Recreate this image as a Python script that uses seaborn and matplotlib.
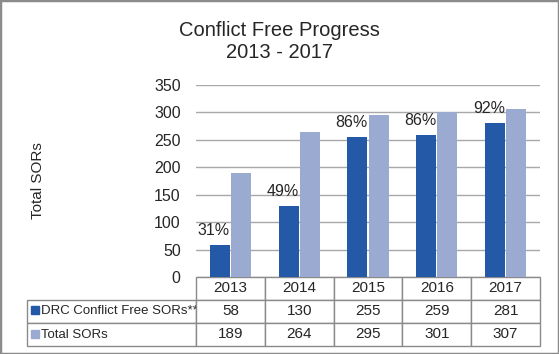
import pandas as pd
import seaborn as sns
import matplotlib.pyplot as plt
from matplotlib.patches import Rectangle

# chart values
years = ['2013', '2014', '2015', '2016', '2017']
drc_free = [58, 130, 255, 259, 281]
total_sors = [189, 264, 295, 301, 307]
series_names = ['DRC Conflict Free SORs**', 'Total SORs']
pct_labels = ['31%', '49%', '86%', '86%', '92%']

dark = '#2359a6'
light = '#9baad1'

sns.set_style('white')
plt.rcParams['font.family'] = ['Liberation Sans', 'DejaVu Sans']

df = pd.DataFrame({
    'year': years * 2,
    'series': [series_names[0]] * 5 + [series_names[1]] * 5,
    'value': drc_free + total_sors,
})

fig = plt.figure(figsize=(5.59, 3.54), dpi=100)
ax = fig.add_axes([196 / 559, 1 - 277 / 354, 344 / 559, 192 / 354])

sns.barplot(data=df, x='year', y='value', hue='series', palette=[dark, light],
            saturation=1, width=0.62, gap=0.06, legend=False, ax=ax, linewidth=0)

ax.set_ylim(0, 350)
ax.set_yticks(range(0, 351, 50))
ax.set_xlabel('')
ax.set_ylabel('')
ax.tick_params(axis='x', labelbottom=False, length=0)
ax.tick_params(axis='y', length=0, pad=11, labelsize=11.5)
ax.yaxis.grid(True, color='#a8a8a8', lw=1)
ax.set_axisbelow(True)
sns.despine(ax=ax, left=True, bottom=True)

# percentage of conflict free over the dark bars
for bar, lab in zip(ax.containers[0], pct_labels):
    ax.annotate(lab, (bar.get_x() + bar.get_width(), bar.get_height()),
                xytext=(0, 5), textcoords='offset points',
                ha='right', va='bottom', fontsize=11.5)

# data table under the bars
cells = [[''] + years,
         [series_names[0]] + [str(v) for v in drc_free],
         [series_names[1]] + [str(v) for v in total_sors]]
tbl = ax.table(cellText=cells, colWidths=[169] + [68.8] * 5, cellLoc='center',
               bbox=[-169 / 344, -69 / 192, 513 / 344, 69 / 192])
tbl.auto_set_font_size(False)
tbl.set_fontsize(11)
for (r, c), cell in tbl.get_celld().items():
    cell.set_edgecolor('#8a8a8a')
    cell.set_linewidth(1)
    if c == 0:
        cell._loc = 'left'
        cell.PAD = 0.085
        cell.get_text().set_ha('left')
        cell.get_text().set_fontsize(9.5)
tbl[(0, 0)].set_visible(False)

# legend keys in the table rows
for y_px, col in [(310, dark), (334, light)]:
    fig.add_artist(Rectangle((31 / 559, 1 - (y_px + 4) / 354), 8 / 559, 8 / 354,
                             transform=fig.transFigure, color=col))

fig.text(0.5, 1 - 30 / 354, 'Conflict Free Progress', ha='center', va='center', fontsize=14.5)
fig.text(0.5, 1 - 52 / 354, '2013 - 2017', ha='center', va='center', fontsize=14.5)
fig.text(38 / 559, 1 - 181 / 354, 'Total SORs', rotation=90, ha='center', va='center', fontsize=11)

# grey frame around the figure
fig.add_artist(Rectangle((0, 0), 1, 1, transform=fig.transFigure, fill=False,
                         edgecolor='#8c8c8c', linewidth=2.5))

fig.savefig('out.png', dpi=100)
